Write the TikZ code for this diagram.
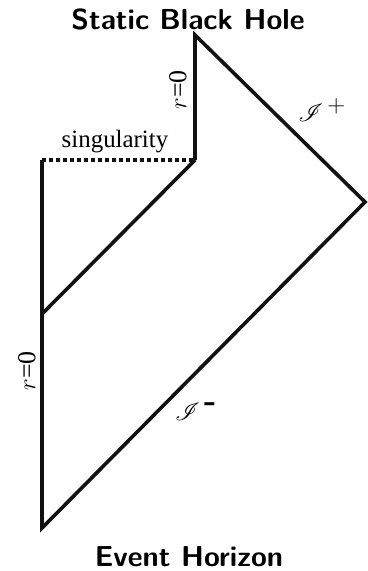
\documentclass[tikz,border=0pt]{standalone}
\usepackage{fontspec}
\usepackage{mathrsfs}
\usepackage{tikz}
\usetikzlibrary{positioning, calc}
\newfontfamily\timesfont{Liberation Serif}
\definecolor{cblack}{HTML}{111111}

\begin{document}
\begin{tikzpicture}[x=1bp, y=-1bp,
    boundary/.style={cblack, line width=3.6bp, line join=miter},
    singular/.style={cblack, line width=3.6bp, dash pattern=on 4bp off 3bp},
    heading/.style={font=\sffamily\bfseries\fontsize{29}{34}\selectfont, inner sep=0pt, anchor=base},
    rlabel/.style={font=\timesfont\fontsize{26}{30}\selectfont, inner sep=0pt, rotate=90},
    scri/.style={font=\fontsize{33}{38}\selectfont, inner sep=0pt}]
  \useasboundingbox (0,0) rectangle (367,571);
  % corners of the diagram
  \coordinate (top) at (195,35);
  \coordinate (kink) at (195,160);
  \coordinate (right) at (365,202);
  \coordinate (bottom) at (42,528);
  \coordinate (sing) at (42,160);
  \coordinate (join) at (42,314);
  % boundaries
  \draw[boundary] (kink) -- (top) -- (right) -- (bottom) -- (sing);
  \draw[boundary] (kink) -- (join);
  \draw[singular] (sing) -- (kink);
  % labels
  \node[heading] (title) at (188,30) {Static Black Hole};
  \node[heading] (foot) at (189,566) {Event Horizon};
  \node[font=\timesfont\fontsize{25}{30}\selectfont, inner sep=0pt, anchor=base] (singlabel) at (115,148) {singularity};
  \node[rlabel] (rtop) at (178,90) {$r$=0};
  \node[rlabel] (rbot) at (27,371) {$r$=0};
  \node[scri] (scriplus) at (322,110) {$\mathscr{I}^{\,+}$};
  \node[scri] (scriminus) at (196,412) {$\mathscr{I}^{\,\textbf{-}}$};
\end{tikzpicture}
\end{document}
